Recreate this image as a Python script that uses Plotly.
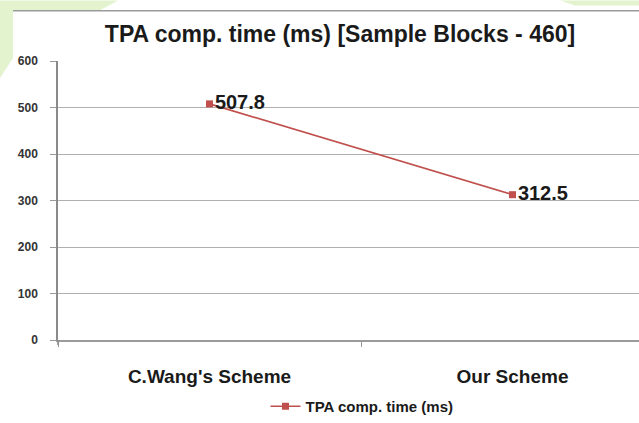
import plotly.graph_objects as go

# Chart data
schemes = ["C.Wang's Scheme", "Our Scheme"]
tpa_time_ms = [507.8, 312.5]
series_name = "TPA comp. time (ms)"
chart_title = "TPA comp. time (ms) [Sample Blocks - 460]"

W, H = 639, 423
L, R, T, B = 58, 0, 61, 81

def px_x(p):
    return (p - L) / (W - L - R)

def px_y(p):
    return (H - B - p) / (H - T - B)

green = "#e2f3cd"
ink = "#1a1a1a"

fig = go.Figure()
fig.add_trace(go.Scatter(
    x=schemes, y=tpa_time_ms, name=series_name,
    mode="lines+markers+text",
    line=dict(color="#c0504d", width=1.6),
    marker=dict(symbol="square", size=7, color="#c0504d"),
    text=[f"{v:.1f}" for v in tpa_time_ms],
    textposition="middle right",
    textfont=dict(family="Liberation Sans, Arial", size=20, color=ink, weight="bold"),
    cliponaxis=False,
))

shapes = [
    # slide background strips
    dict(type="path", xref="paper", yref="paper", layer="below", line=dict(width=0), fillcolor=green,
         path=f"M {px_x(0)},{px_y(0)} L {px_x(118)},{px_y(0)} L {px_x(100)},{px_y(10)} L {px_x(13)},{px_y(10)} "
              f"L {px_x(13)},{px_y(58)} L {px_x(0)},{px_y(78)} Z"),
    dict(type="path", xref="paper", yref="paper", layer="below", line=dict(width=0), fillcolor=green,
         path=f"M {px_x(560)},{px_y(0)} L {px_x(639)},{px_y(0)} L {px_x(639)},{px_y(5)} L {px_x(575)},{px_y(5)} Z"),
    # chart frame top edge
    dict(type="line", xref="paper", yref="paper", x0=px_x(13), x1=px_x(639), y0=px_y(10.5), y1=px_y(10.5),
         line=dict(color="#9a9a9a", width=1.5)),
    # y axis line running slightly past zero
    dict(type="line", xref="paper", yref="paper", x0=0, x1=0, y0=px_y(347), y1=px_y(342),
         line=dict(color="#8a8a8a", width=1.5)),
]

fig.update_layout(
    width=W, height=H,
    margin=dict(l=L, r=R, t=T, b=B),
    paper_bgcolor="white", plot_bgcolor="white",
    shapes=shapes,
    title=dict(text=f"<b>{chart_title}</b>", xref="container", x=340 / W, xanchor="center",
               yref="container", y=1 - 34 / H, yanchor="middle",
               font=dict(family="Liberation Sans, Arial", size=23, color=ink)),
    showlegend=True,
    legend=dict(orientation="h", x=px_x(362), xanchor="center", y=px_y(409), yanchor="middle",
                font=dict(family="Liberation Sans, Arial", size=15, color=ink, weight="bold"),
                bgcolor="rgba(0,0,0,0)"),
    font=dict(family="Liberation Sans, Arial"),
)

fig.update_xaxes(
    type="category", range=[-0.5, (W - L - R) / 303 - 0.5],
    showline=True, linecolor="#9a9a9a", linewidth=1.5,
    ticks="outside", tickson="boundaries", ticklen=5, tickcolor="#9a9a9a",
    showgrid=False, ticklabelstandoff=18,
    tickfont=dict(family="Liberation Sans, Arial", size=19, color=ink, weight="bold"),
)
fig.update_yaxes(
    range=[0, 600], dtick=100,
    showline=True, linecolor="#8a8a8a", linewidth=1.5,
    ticks="outside", ticklen=6, tickcolor="#9a9a9a",
    showgrid=True, gridcolor="#b0b0b0", gridwidth=1.2,
    zeroline=False, ticklabelstandoff=10,
    tickfont=dict(family="Liberation Sans, Arial", size=12, color="#333333", weight="bold"),
)

fig.write_html("out.html")
